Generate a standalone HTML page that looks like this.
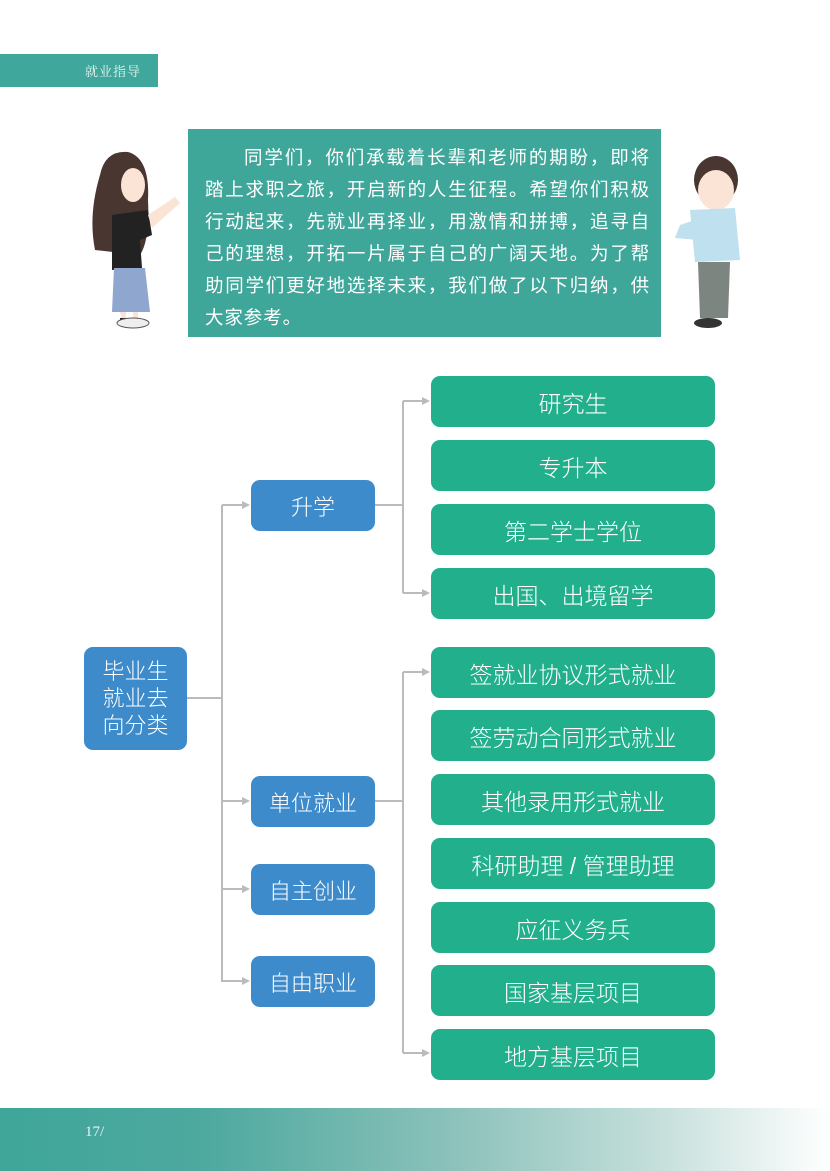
<!DOCTYPE html>
<html><head><meta charset="utf-8">
<style>
*{margin:0;padding:0;box-sizing:border-box}
body{width:830px;height:1171px;background:#fff;position:relative;overflow:hidden;font-family:"Liberation Sans","Noto Sans CJK SC",sans-serif}
.hdr{position:absolute;left:0;top:54px;width:158px;height:33px;background:#3fa79b;color:#e8f4f2;font-size:13px;line-height:33px;padding-left:85px;font-family:"Noto Serif CJK SC",serif;letter-spacing:1px}
.tb{position:absolute;left:188px;top:129px;width:473px;height:208px;background:#3fa69a;color:#fff;font-size:18.5px;line-height:32px;padding:142px 0 0 0}
.tb p{position:absolute;left:17px;top:13px;width:445px;letter-spacing:0.9px;text-align:justify;text-indent:39px}
.b{position:absolute;color:#fff;display:flex;align-items:center;justify-content:center;border-radius:9px;font-weight:300}
.blue{background:#3d8bcb;left:251px;width:124px;height:51px;font-size:22px}
.g{background:#22b08c;left:431px;width:284px;height:51px;font-size:23px}
.ft{position:absolute;left:0;top:1108px;width:830px;height:63px;background:linear-gradient(to right,#3fa69a 0%,#4ea99f 25%,#8cc2bb 55%,#c7e0dc 80%,#fff 100%)}
.ft span{position:absolute;left:85px;top:16px;color:#eef;font-size:15px;font-family:"Liberation Serif",serif}
</style></head><body>
<div class="hdr">就业指导</div>
<div class="tb"><p>同学们，你们承载着长辈和老师的期盼，即将踏上求职之旅，开启新的人生征程。希望你们积极行动起来，先就业再择业，用激情和拼搏，追寻自己的理想，开拓一片属于自己的广阔天地。为了帮助同学们更好地选择未来，我们做了以下归纳，供大家参考。</p></div>

<svg style="position:absolute;left:0;top:0" width="830" height="1171">
<!-- girl -->
<path d="M100 175 Q105 150 128 152 Q150 158 148 200 Q150 240 140 255 L95 250 Q88 215 100 175Z" fill="#4a3630"/>
<ellipse cx="133" cy="185" rx="12" ry="17" fill="#fbe3d6"/>
<path d="M112 215 L148 210 L152 235 L140 240 L142 268 L112 270Z" fill="#222"/>
<path d="M148 215 L175 197 L180 203 L152 228Z" fill="#fbe3d6"/>
<path d="M114 268 L145 268 L150 312 L112 312Z" fill="#8fa6cf"/>
<rect x="120" y="312" width="5" height="2" fill="#fbe3d6"/>
<rect x="121" y="312" width="5" height="12" fill="#fbe3d6"/><rect x="133" y="312" width="5" height="12" fill="#fbe3d6"/>
<path d="M120 318 h8 v8 h-8z M132 318 h8 v8 h-8z" fill="#222"/>
<ellipse cx="133" cy="323" rx="16" ry="5" fill="#eee" stroke="#555"/>
<!-- man -->
<ellipse cx="716" cy="180" rx="22" ry="24" fill="#4a3630"/>
<ellipse cx="716" cy="190" rx="18" ry="20" fill="#fbe3d6"/>
<path d="M690 210 L735 208 L740 260 L695 262Z" fill="#bfe0ee"/>
<path d="M680 225 L695 220 L698 240 L675 238Z" fill="#bfe0ee"/>
<path d="M698 262 L730 262 L728 318 L700 318Z" fill="#7d8580"/>
<ellipse cx="708" cy="323" rx="14" ry="5" fill="#333"/>
<g stroke="#bbb" stroke-width="2" fill="none">
<path d="M187 698 H222 M222 505 V982 M222 505 H244 M222 801 H244 M222 889 H244 M222 981 H244"/>
<path d="M375 505 H403 M403 401 V593 M403 401 H424 M403 593 H424"/>
<path d="M375 801 H403 M403 672 V1053 M403 672 H424 M403 1053 H424"/>
</g>
<g fill="#bbb">
<path d="M250 505 l-8 -4 v8z M250 801 l-8 -4 v8z M250 889 l-8 -4 v8z M250 981 l-8 -4 v8z"/>
<path d="M430 401 l-8 -4 v8z M430 593 l-8 -4 v8z M430 672 l-8 -4 v8z M430 1053 l-8 -4 v8z"/>
</g>
</svg>

<div class="b" style="background:#3d8bcb;left:84px;top:647px;width:103px;height:103px;font-size:22px;line-height:27px;text-align:center;padding:0 8px">毕业生就业去向分类</div>
<div class="b blue" style="top:480px">升学</div>
<div class="b blue" style="top:776px">单位就业</div>
<div class="b blue" style="top:864px">自主创业</div>
<div class="b blue" style="top:956px">自由职业</div>

<div class="b g" style="top:376px">研究生</div>
<div class="b g" style="top:440px">专升本</div>
<div class="b g" style="top:504px">第二学士学位</div>
<div class="b g" style="top:568px">出国、出境留学</div>
<div class="b g" style="top:647px">签就业协议形式就业</div>
<div class="b g" style="top:710px">签劳动合同形式就业</div>
<div class="b g" style="top:774px">其他录用形式就业</div>
<div class="b g" style="top:838px">科研助理 / 管理助理</div>
<div class="b g" style="top:902px">应征义务兵</div>
<div class="b g" style="top:965px">国家基层项目</div>
<div class="b g" style="top:1029px">地方基层项目</div>

<div class="ft"><span>17/</span></div>
</body></html>
